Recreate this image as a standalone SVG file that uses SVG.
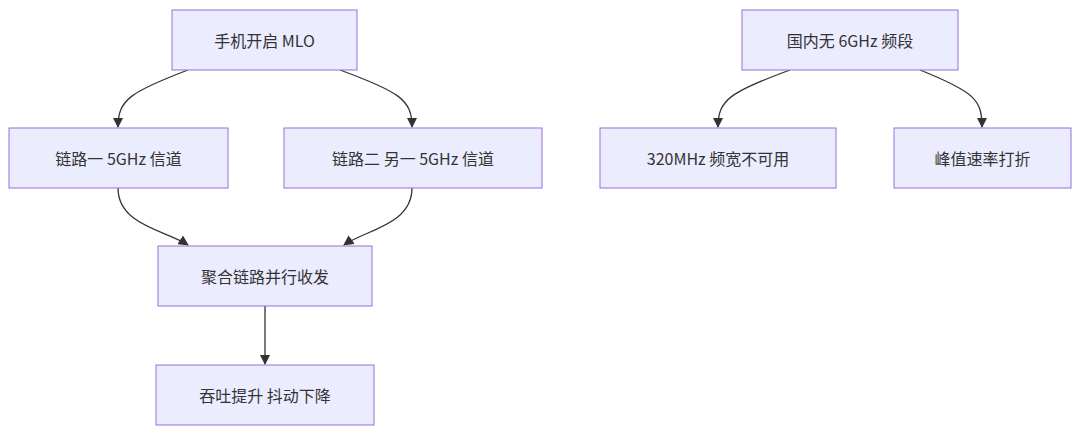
<svg xmlns="http://www.w3.org/2000/svg" width="1080" height="435" viewBox="0 0 1080 435">
<style>
.n rect{fill:#ECECFF;stroke:#9370DB;stroke-width:1}
.n text{font-family:"Noto Sans CJK SC","Noto Sans",sans-serif;font-size:16px;fill:#333;text-anchor:middle;dominant-baseline:central}
.e path{fill:none;stroke:#333;stroke-width:1.3;marker-end:url(#a)}
</style>
<defs><marker id="a" viewBox="0 0 10 10" refX="9" refY="5" markerWidth="8" markerHeight="8" orient="auto"><path d="M0,0L10,5L0,10z" fill="#333"/></marker></defs>
<rect width="1080" height="435" fill="#fff"/>
<g class="e">
<path d="M188,70 C130,92 118,100 118,127"/>
<path d="M340,70 C400,92 412,100 412,127"/>
<path d="M118,188 C118,225 165,230 188,245"/>
<path d="M412,188 C412,225 365,230 344,245"/>
<path d="M265,306 L265,364"/>
<path d="M790,70 C730,92 718,100 718,127"/>
<path d="M920,70 C975,92 982,100 982,127"/>
</g>
<g id="n1" class="n"><rect x="172" y="10" width="185" height="60"/><text x="264.5" y="40">手机开启 MLO</text></g>
<g id="n2" class="n"><rect x="9" y="128" width="219" height="60"/><text x="118.5" y="158">链路一 5GHz 信道</text></g>
<g id="n3" class="n"><rect x="284" y="128" width="258" height="60"/><text x="413" y="158">链路二 另一 5GHz 信道</text></g>
<g id="n4" class="n"><rect x="158" y="246" width="214" height="60"/><text x="265" y="276">聚合链路并行收发</text></g>
<g id="n5" class="n"><rect x="156" y="365" width="218" height="60"/><text x="265" y="395">吞吐提升 抖动下降</text></g>
<g id="n6" class="n"><rect x="742" y="10" width="216" height="60"/><text x="850" y="40">国内无 6GHz 频段</text></g>
<g id="n7" class="n"><rect x="600" y="128" width="236" height="60"/><text x="718" y="158">320MHz 频宽不可用</text></g>
<g id="n8" class="n"><rect x="894" y="128" width="177" height="60"/><text x="982.5" y="158">峰值速率打折</text></g>
</svg>
